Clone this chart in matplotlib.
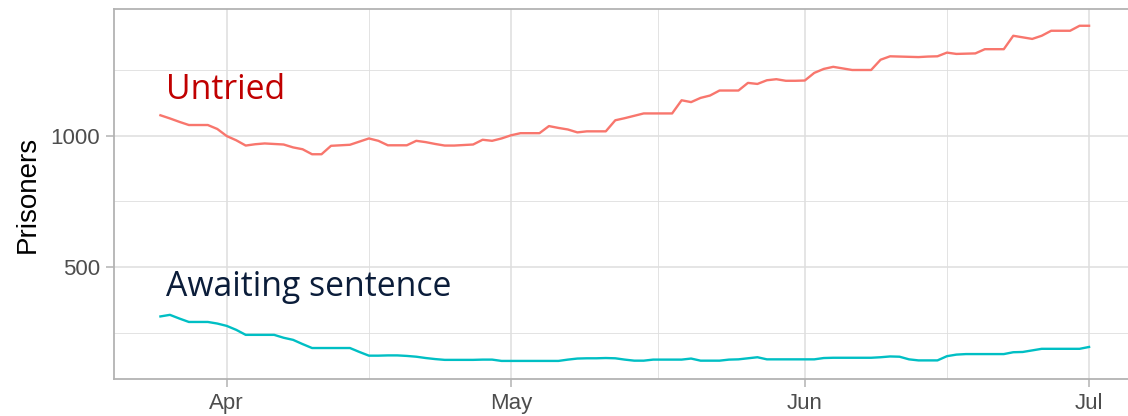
import numpy as np
import matplotlib
matplotlib.use("Agg")
import matplotlib.pyplot as plt
import matplotlib.dates as mdates
from matplotlib.ticker import FixedLocator

# daily figures, 25 Mar - 1 Jul
start_date = np.datetime64("2020-03-25")

untried = [
    1077, 1065, 1052, 1040, 1040, 1040, 1025, 998, 982, 962,
    967, 970, 968, 966, 955, 948, 929, 929, 961, 963,
    965, 977, 989, 980, 963, 963, 963, 980, 975, 968,
    962, 962, 964, 966, 984, 980, 989, 1001, 1009, 1009,
    1009, 1036, 1029, 1023, 1012, 1016, 1016, 1016, 1058, 1066,
    1075, 1084, 1084, 1084, 1084, 1134, 1127, 1143, 1152, 1171,
    1171, 1171, 1200, 1196, 1210, 1214, 1208, 1208, 1209, 1238,
    1253, 1261, 1255, 1249, 1249, 1249, 1288, 1301, 1300, 1299,
    1298, 1300, 1301, 1315, 1310, 1311, 1312, 1328, 1328, 1328,
    1379, 1373, 1367, 1379, 1398, 1398, 1398, 1417, 1417,
]

awaiting = [
    313, 319, 305, 292, 292, 292, 286, 277, 262, 243,
    243, 243, 243, 232, 224, 208, 193, 193, 193, 193,
    193, 178, 164, 164, 165, 165, 163, 160, 155, 151,
    148, 148, 148, 148, 149, 149, 144, 144, 144, 144,
    144, 144, 144, 149, 153, 154, 154, 155, 154, 149,
    145, 145, 149, 149, 149, 149, 153, 145, 145, 145,
    149, 150, 154, 158, 150, 150, 150, 150, 150, 150,
    155, 156, 156, 156, 156, 156, 158, 161, 160, 150,
    146, 146, 146, 162, 168, 170, 170, 170, 170, 170,
    177, 178, 184, 190, 190, 190, 190, 190, 197,
]

dates = start_date + np.arange(len(untried))
month_breaks = np.array(["2020-04-01", "2020-05-01", "2020-06-01", "2020-07-01"], dtype="datetime64[D]")
month_labels = ["Apr", "May", "Jun", "Jul"]

grid_col = "#dedede"
border_col = "#b3b3b3"
text_col = "#4d4d4d"

fig = plt.figure(figsize=(11.28, 4.16), dpi=100)
ax = fig.add_axes([114 / 1128, 37 / 416, 1021.5 / 1128, 370 / 416])

x = mdates.date2num(dates)
ax.plot(x, untried, color="#F8766D", lw=1.7, solid_joinstyle="round", zorder=3)
ax.plot(x, awaiting, color="#00BFC4", lw=1.7, solid_joinstyle="round", zorder=3)

# ggplot-style 5% expansion
span = x[-1] - x[0]
ax.set_xlim(x[0] - 0.05 * span, x[-1] + 0.05 * span)
ymin = min(awaiting)
ymax = max(untried)
yr = ymax - ymin
ax.set_ylim(ymin - 0.05 * yr - 5, ymax + 0.05 * yr)

maj = mdates.date2num(month_breaks)
ax.xaxis.set_major_locator(FixedLocator(maj))
ax.xaxis.set_minor_locator(FixedLocator((maj[:-1] + maj[1:]) / 2))
ax.set_xticks(maj)
ax.set_xticklabels(month_labels)
ax.yaxis.set_major_locator(FixedLocator([500, 1000]))
ax.yaxis.set_minor_locator(FixedLocator([250, 750, 1250]))

ax.grid(which="major", color=grid_col, lw=1.1, zorder=0)
ax.grid(which="minor", color=grid_col, lw=0.6, zorder=0)
ax.set_axisbelow(True)

for s in ax.spines.values():
    s.set_color(border_col)
    s.set_linewidth(1.3)

ax.tick_params(which="major", length=6, width=1.1, color=border_col,
               labelsize=16, labelcolor=text_col, pad=4)
ax.tick_params(which="minor", length=0)
for lab in ax.get_xticklabels() + ax.get_yticklabels():
    lab.set_family(["Liberation Sans", "DejaVu Sans"])

ax.set_ylabel("Prisoners", fontsize=20, family=["Liberation Sans", "DejaVu Sans"],
              color="black", labelpad=7)

ax.text(mdates.date2num(np.datetime64("2020-03-25")) + 0.6, 1137, "Untried",
        color="#C00000", fontsize=24.3, family=["Open Sans", "DejaVu Sans"], va="baseline")
ax.text(mdates.date2num(np.datetime64("2020-03-25")) + 0.6, 389, "Awaiting sentence",
        color="#0B1D3A", fontsize=24.3, family=["Open Sans", "DejaVu Sans"], va="baseline")

fig.savefig("out.png", dpi=100)
